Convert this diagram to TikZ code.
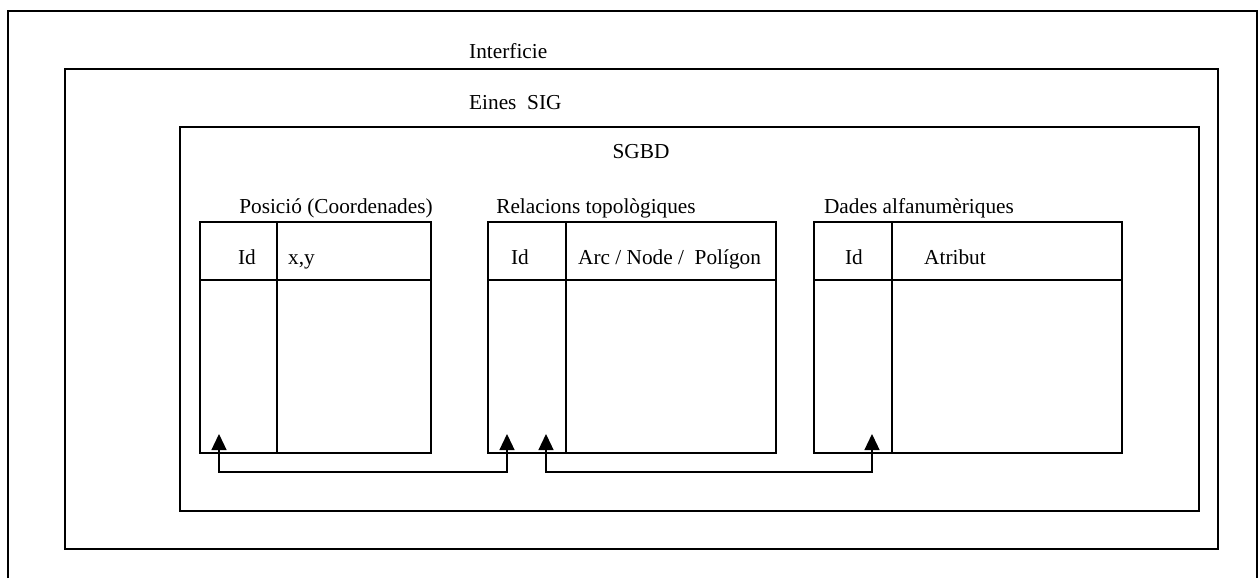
\documentclass[tikz,border=0pt]{standalone}
\usepackage{fontspec}
\setmainfont{Liberation Serif}
\usetikzlibrary{arrows.meta}
\begin{document}
\begin{tikzpicture}[x=1pt,y=-1pt,
  frame/.style={draw,line width=1.4pt,inner sep=0pt,outer sep=0pt,anchor=north west},
  tab/.style={draw,line width=1.3pt,inner sep=0pt,outer sep=0pt,anchor=north west},
  lbl/.style={inner sep=0pt,anchor=base,font=\fontsize{21.3}{25}\selectfont},
  lblw/.style={lbl,anchor=base west},
  link/.style={line width=1.3pt,{Triangle[width=15pt,length=16pt]}-{Triangle[width=15pt,length=16pt]}}]
\useasboundingbox (0,0) rectangle (1260,578);
% outer open frame
\draw[line width=1.4pt] (8,578) -- (8,11) -- (1257,11) -- (1257,578);
% Interficie box
\node[frame,minimum width=1153pt,minimum height=480pt] (inter) at (65,69) {};
\node[lblw] (tinter) at (469,59) {Interficie};
% Eines SIG box
\node[frame,minimum width=1019pt,minimum height=384pt] (eines) at (180,127) {};
\node[lblw] (teines) at (469,109) {Eines\ \ SIG};
\node[lbl] (tsgbd) at (641,158) {SGBD};
% tables
\node[tab,minimum width=231pt,minimum height=231pt] (t1) at (200,222) {};
\node[tab,minimum width=288pt,minimum height=231pt] (t2) at (488,222) {};
\node[tab,minimum width=308pt,minimum height=231pt] (t3) at (814,222) {};
% header lines and dividers
\draw[line width=1.3pt] (200,280) -- (431,280) (277,222) -- (277,453);
\draw[line width=1.3pt] (488,280) -- (776,280) (566,222) -- (566,453);
\draw[line width=1.3pt] (814,280) -- (1122,280) (892,222) -- (892,453);
% titles
\node[lbl] (l1) at (336,213) {Posició (Coordenades)};
\node[lbl] (l2) at (596,213) {Relacions topològiques};
\node[lbl] (l3) at (919,213) {Dades alfanumèriques};
% headers
\node[lbl] (h1a) at (247,264) {Id};
\node[lblw] (h1b) at (288,264) {x,y};
\node[lbl] (h2a) at (520,264) {Id};
\node[lblw] (h2b) at (578,264) {Arc / Node /\ \ Polígon};
\node[lbl] (h3a) at (854,264) {Id};
\node[lblw] (h3b) at (924,264) {Atribut};
% connectors
\coordinate (a1) at (219,434);
\coordinate (a2) at (507,434);
\coordinate (b1) at (546,434);
\coordinate (b2) at (872,434);
\draw[link] (a1) -- (a1 |- 0,472) -- (a2 |- 0,472) -- (a2);
\draw[link] (b1) -- (b1 |- 0,472) -- (b2 |- 0,472) -- (b2);
\end{tikzpicture}
\end{document}
